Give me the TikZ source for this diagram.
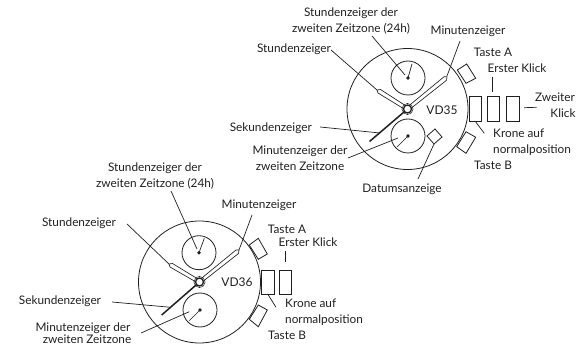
\documentclass[tikz,border=0pt]{standalone}
\usepackage{fontspec}
\setmainfont{Lato}
\tikzset{
  lbl/.style={inner sep=0pt,anchor=base,font=\fontsize{11.8}{13}\selectfont,text=black!88},
  lblw/.style={lbl,anchor=base west},
  ln/.style={draw=black!88,line width=0.7pt},
  dial/.style={draw=black!88,line width=0.8pt,fill=none},
  hand/.style={draw=black!88,line width=0.65pt,fill=white,line join=round},
  hub/.style={circle,fill=black!88,inner sep=0pt,minimum size=3.8pt},
}
\begin{document}
\begin{tikzpicture}[x=1pt,y=-1pt]
\useasboundingbox (0,0) rectangle (578,347);
% ---- VD35
\coordinate (c1) at (407.5,109);
\draw[dial] (c1) circle[radius=60.5];
\node[hub] (s1a) at (408,78) {};
\node[hub] (s1b) at (408,136) {};
\draw[dial] (s1a) circle[radius=17];
\draw[dial] (s1b) circle[radius=17];
\draw[ln] (s1a.center) -- (412,64);
\draw[ln] (s1b.center) -- (397,147);
\draw[hand] (408.4,107.5) -- (380.5,89.5) -- (377,90) -- (378,93) -- (406.6,110.5) -- cycle;
\draw[hand] (406.5,107.7) -- (444,76.8) -- (447,76.8) -- (446.5,80.3) -- (408.5,110.3) -- cycle;
\draw[black!88,line width=1.5pt] (c1) -- (369.5,141.5);
\draw[dial,fill=white,line width=1.3pt] (c1) circle[radius=4];
\draw[black!88,line width=0.5pt] (c1) circle[radius=5.6];
\draw[dial] (457.3,70) -- (466.7,64) -- (475.7,78.3) -- (466,83.3) -- cycle;
\draw[dial] (456.7,146.7) -- (466,131.7) -- (475.7,137.3) -- (466,153.3) -- cycle;
\draw[dial] (469.3,96) rectangle (481.7,121);
\draw[dial] (487.3,96) rectangle (499.3,121);
\draw[dial] (506.7,96) rectangle (519,121);
\draw[dial] (427,136) -- (435,129) -- (442,137) -- (434,144) -- cycle;
\node[lbl] (a1) at (351,16.5) {Stundenzeiger der};
\node[lbl] (a2) at (351,32.5) {zweiten Zeitzone (24h)};
\node[lbl] (a3) at (468,35) {Minutenzeiger};
\node[lbl] (a4) at (294,53) {Stundenzeiger};
\node[lbl] (a5) at (493,57) {Taste A};
\node[lbl] (a6) at (517,72.5) {Erster Klick};
\node[lbl] (a7) at (555,102) {Zweiter};
\node[lbl] (a8) at (563,118) {Klick};
\node[lbl,font=\fontsize{12}{13}\selectfont] (a9) at (442,115) {VD35};
\node[lbl,anchor=base east] (a10) at (312,132) {Sekundenzeiger};
\node[lbl] (a11) at (300,155) {Minutenzeiger der};
\node[lbl] (a12) at (300,171) {zweiten Zeitzone};
\node[lblw] (a13) at (493,138) {Krone auf};
\node[lblw] (a14) at (493,154) {normalposition};
\node[lblw] (a15) at (474,170) {Taste B};
\node[lbl] (a16) at (402,193) {Datumsanzeige};
\draw[ln] (372,36) -- (405,75);
\draw[ln] (460,41) -- (447,76);
\draw[ln] (331,50) -- (377,90);
\draw[ln] (320,127) -- (380,133);
\draw[ln] (348,158) -- (398,138);
\draw[ln] (492.7,76.7) -- (492.7,91.7);
\draw[ln] (524,107.7) -- (536.7,107.3);
\draw[ln] (475,121) -- (484.3,133.3);
\draw[ln] (418,179) -- (434,144);
% ---- VD36
\coordinate (c2) at (199.5,282);
\draw[dial] (c2) circle[radius=61];
\node[hub] (s2a) at (199,252.7) {};
\node[hub] (s2b) at (200,310) {};
\draw[dial] (s2a) circle[radius=17];
\draw[dial] (s2b) circle[radius=17];
\draw[ln] (s2a.center) -- (204.3,238.3);
\draw[ln] (s2b.center) -- (189.3,320.7);
\draw[hand] (200.4,280.5) -- (172.5,263.5) -- (169,264) -- (170,267) -- (198.6,283.5) -- cycle;
\draw[hand] (198.5,280.7) -- (236,250) -- (239,250) -- (238.5,253.5) -- (200.5,283.3) -- cycle;
\draw[black!88,line width=1.5pt] (c2) -- (161.7,315);
\draw[dial,fill=white,line width=1.3pt] (c2) circle[radius=4];
\draw[black!88,line width=0.5pt] (c2) circle[radius=5.6];
\draw[dial] (249.3,245) -- (258.3,238.3) -- (267.3,254) -- (258.3,259.3) -- cycle;
\draw[dial] (249.3,319.3) -- (258.3,305) -- (267.3,310) -- (258.3,326.7) -- cycle;
\draw[dial] (261.7,270) rectangle (274,294);
\draw[dial] (279.3,270) rectangle (291.7,294);
\node[lbl] (b1) at (155,172) {Stundenzeiger der};
\node[lbl] (b2) at (155,188) {zweiten Zeitzone (24h)};
\node[lbl] (b3) at (259,209) {Minutenzeiger};
\node[lbl] (b4) at (79,227) {Stundenzeiger};
\node[lbl] (b5) at (287,234) {Taste A};
\node[lbl] (b6) at (308,247) {Erster Klick};
\node[lbl,font=\fontsize{12}{13}\selectfont] (b7) at (237,287) {VD36};
\node[lbl] (b8) at (60,305) {Sekundenzeiger};
\node[lbl] (b9) at (83,331.5) {Minutenzeiger der};
\node[lbl] (b10) at (87,343.5) {zweiten Zeitzone};
\node[lblw] (b11) at (285,307) {Krone auf};
\node[lblw] (b12) at (285,323) {normalposition};
\node[lblw] (b13) at (268,339) {Taste B};
\draw[ln] (171,191) -- (197,249);
\draw[ln] (252,215) -- (239,250);
\draw[ln] (127,224) -- (169,264);
\draw[ln] (112,302) -- (170.7,307.3);
\draw[ln] (141,333) -- (189.3,311.7);
\draw[ln] (285,250.7) -- (285,261.7);
\draw[ln] (268.3,295) -- (276,307.3);
\end{tikzpicture}
\end{document}
